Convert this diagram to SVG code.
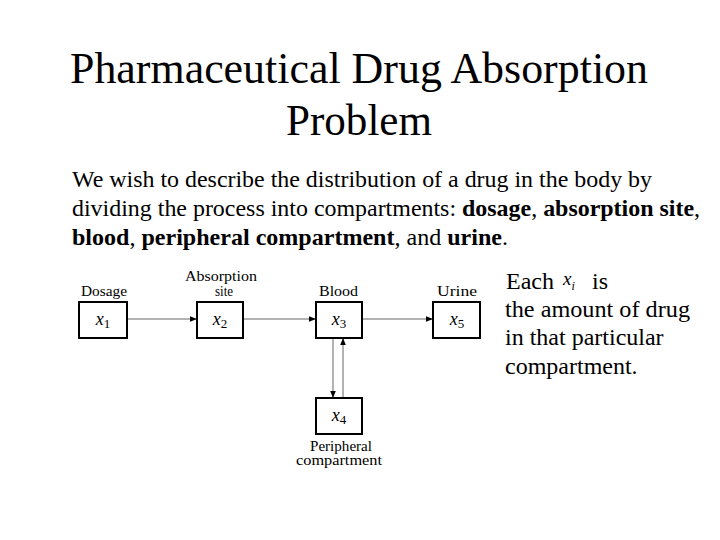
<svg xmlns="http://www.w3.org/2000/svg" width="720" height="540" viewBox="0 0 720 540">
<defs>
<style>
.t{font-family:"Liberation Serif","Times New Roman",serif;fill:#000}
.title{font-size:45px}
.body{font-size:24px}
.lbl{font-size:14px}
.var{font-size:18px;font-style:italic}
.sub{font-size:13px;font-style:normal}
.box{fill:#fff;stroke:#000;stroke-width:2}
.ln{stroke:#666;stroke-width:1;fill:none}
</style>
<marker id="ah" viewBox="0 0 10 10" refX="10" refY="5" markerWidth="10" markerHeight="7" markerUnits="userSpaceOnUse" orient="auto">
<path d="M0,1 L10,5 L0,9 Z" fill="#000"/>
</marker>
</defs>
<rect width="720" height="540" fill="#fff"/>
<text class="t title" x="70" y="83" textLength="578" lengthAdjust="spacingAndGlyphs">Pharmaceutical Drug Absorption</text>
<text class="t title" x="286" y="135" textLength="146" lengthAdjust="spacingAndGlyphs">Problem</text>
<text class="t body" x="72" y="187" textLength="580" lengthAdjust="spacingAndGlyphs">We wish to describe the distribution of a drug in the body by</text>
<text class="t body" x="72" y="216" textLength="628" lengthAdjust="spacingAndGlyphs">dividing the process into compartments: <tspan font-weight="bold">dosage</tspan>, <tspan font-weight="bold">absorption site</tspan>,</text>
<text class="t body" x="72" y="245" textLength="436" lengthAdjust="spacingAndGlyphs"><tspan font-weight="bold">blood</tspan>, <tspan font-weight="bold">peripheral compartment</tspan>, and <tspan font-weight="bold">urine</tspan>.</text>
<g id="note">
<text class="t body" x="506" y="289">Each</text>
<text class="t" x="563" y="285" font-size="19" font-style="italic">x<tspan font-size="12" dy="5">i</tspan></text>
<text class="t body" x="592" y="289">is</text>
<text class="t body" x="505" y="317" textLength="185" lengthAdjust="spacingAndGlyphs">the amount of drug</text>
<text class="t body" x="505" y="345">in that particular</text>
<text class="t body" x="505" y="374">compartment.</text>
</g>
<g id="connectors">
<line class="ln" x1="127" y1="319" x2="197" y2="319" marker-end="url(#ah)"/>
<line class="ln" x1="243" y1="319" x2="316" y2="319" marker-end="url(#ah)"/>
<line class="ln" x1="362" y1="319" x2="433" y2="319" marker-end="url(#ah)"/>
<line class="ln" x1="333" y1="338" x2="333" y2="398" marker-end="url(#ah)"/>
<line class="ln" x1="343" y1="398" x2="343" y2="338" marker-end="url(#ah)"/>
</g>
<g id="dosage">
<rect class="box" x="79" y="302" width="48" height="36"/>
<text class="t lbl" x="81" y="296" textLength="46" lengthAdjust="spacingAndGlyphs">Dosage</text>
<text class="t var" x="103" y="325" text-anchor="middle">x<tspan class="sub" dy="3">1</tspan></text>
</g>
<g id="absorption">
<rect class="box" x="197" y="302" width="46" height="36"/>
<text class="t lbl" x="185" y="281" textLength="72" lengthAdjust="spacingAndGlyphs">Absorption</text>
<text class="t lbl" x="215" y="296" textLength="18" lengthAdjust="spacingAndGlyphs">site</text>
<text class="t var" x="220" y="325" text-anchor="middle">x<tspan class="sub" dy="3">2</tspan></text>
</g>
<g id="blood">
<rect class="box" x="316" y="302" width="46" height="36"/>
<text class="t lbl" x="319" y="296" textLength="39" lengthAdjust="spacingAndGlyphs">Blood</text>
<text class="t var" x="339" y="325" text-anchor="middle">x<tspan class="sub" dy="3">3</tspan></text>
</g>
<g id="urine">
<rect class="box" x="433" y="302" width="47" height="36"/>
<text class="t lbl" x="437" y="296" textLength="40" lengthAdjust="spacingAndGlyphs">Urine</text>
<text class="t var" x="457" y="325" text-anchor="middle">x<tspan class="sub" dy="3">5</tspan></text>
</g>
<g id="peripheral">
<rect class="box" x="316" y="398" width="46" height="36"/>
<text class="t var" x="339" y="421" text-anchor="middle">x<tspan class="sub" dy="3">4</tspan></text>
<text class="t lbl" x="310" y="451" textLength="62" lengthAdjust="spacingAndGlyphs">Peripheral</text>
<text class="t lbl" x="296" y="465" textLength="86" lengthAdjust="spacingAndGlyphs">compartment</text>
</g>
</svg>
